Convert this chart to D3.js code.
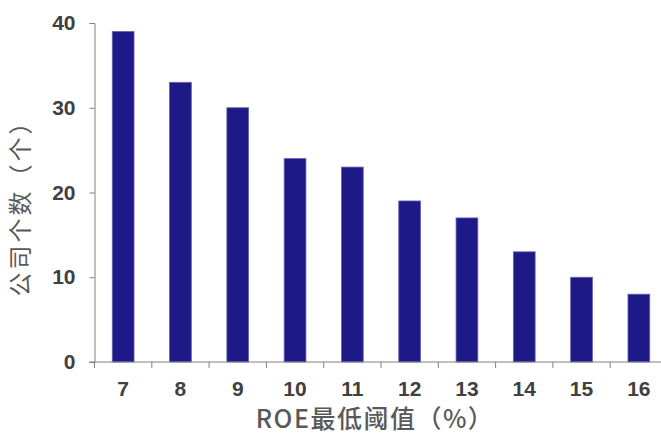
<!DOCTYPE html>
<html>
<head>
<meta charset="utf-8">
<script src="https://cdn.jsdelivr.net/npm/d3@7"></script>
<style>
  body { margin: 0; background: #fff; }
  svg { display: block; }
</style>
</head>
<body>
<div id="chart"></div>
<script>
"use strict";

// Data
const thresholds = ["7", "8", "9", "10", "11", "12", "13", "14", "15", "16"];
const companyCounts = [39, 33, 30, 24, 23, 19, 17, 13, 10, 8];
const yTicks = [0, 10, 20, 30, 40];

const width = 661, height = 434;
const plotLeft = 94.5, plotRight = 667.5, plotTop = 23, plotBottom = 362;
const tickFont = "'Liberation Sans', Arial, sans-serif";
const titleFont = "'Noto Sans CJK SC', sans-serif";

let svg = d3.select("#chart").append("svg")
  .attr("width", width)
  .attr("height", height);

let x = d3.scaleBand()
  .domain(thresholds)
  .range([plotLeft, plotRight])
  .paddingInner(0.62)
  .paddingOuter(0.31);

let y = d3.scaleLinear()
  .domain([0, 40])
  .range([plotBottom, plotTop]);

// Bars
svg.append("g")
  .selectAll("rect")
  .data(companyCounts)
  .join("rect")
  .attr("x", (d, i) => x(thresholds[i]))
  .attr("y", d => y(d))
  .attr("width", x.bandwidth())
  .attr("height", d => plotBottom - y(d))
  .attr("fill", "#1d1a88")
  .attr("stroke", "#6464b4")
  .attr("stroke-width", 0.8);

// Y axis
let yAxis = svg.append("g")
  .attr("transform", `translate(${plotLeft},0)`)
  .call(d3.axisLeft(y).tickValues(yTicks).tickSize(5).tickPadding(14));
yAxis.select(".domain").attr("stroke", "#808080");
yAxis.selectAll(".tick line").attr("stroke", "#808080");
yAxis.selectAll("text")
  .attr("font-family", tickFont)
  .attr("font-weight", "bold")
  .attr("font-size", "21px")
  .attr("fill", "#404040");

// X axis: ticks at band boundaries
let step = x.step();
let boundaries = thresholds.map((t, i) => plotLeft + i * step);
let xg = svg.append("g");
xg.append("line")
  .attr("x1", plotLeft - 5).attr("x2", width)
  .attr("y1", plotBottom).attr("y2", plotBottom)
  .attr("stroke", "#808080");
xg.selectAll("line.tk")
  .data(boundaries)
  .join("line")
  .attr("class", "tk")
  .attr("x1", d => d).attr("x2", d => d)
  .attr("y1", plotBottom).attr("y2", plotBottom + 6)
  .attr("stroke", "#808080");
xg.selectAll("text")
  .data(thresholds)
  .join("text")
  .attr("x", d => x(d) + x.bandwidth() / 2)
  .attr("y", 396)
  .attr("text-anchor", "middle")
  .attr("font-family", tickFont)
  .attr("font-weight", "bold")
  .attr("font-size", "21px")
  .attr("fill", "#404040")
  .text(d => d);

// Axis titles
svg.append("text")
  .attr("x", 375)
  .attr("y", 428)
  .attr("text-anchor", "middle")
  .attr("font-family", titleFont)
  .attr("font-weight", 500)
  .attr("font-size", "25px")
  .attr("letter-spacing", "1.5px")
  .attr("fill", "#595959")
  .text("ROE最低阈值（%）");

svg.append("text")
  .attr("transform", "translate(29,202) rotate(-90)")
  .attr("text-anchor", "middle")
  .attr("font-family", titleFont)
  .attr("font-size", "24px")
  .attr("letter-spacing", "3px")
  .attr("fill", "#595959")
  .text("公司个数（个）");
</script>
</body>
</html>
